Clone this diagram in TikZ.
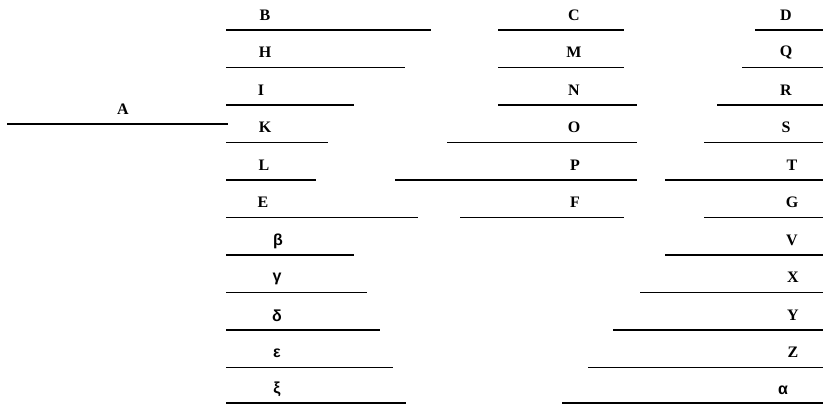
\documentclass[tikz,border=0pt]{standalone}
\usepackage{fontspec}
\setmainfont{Liberation Serif}
\newfontfamily\grkfont{Liberation Sans}
\usepackage{tikz}
\usetikzlibrary{positioning}

\tikzset{
  bar/.style={line width=1.3pt},
  lbl/.style={font=\fontsize{16}{18}\selectfont\bfseries, inner sep=0},
  grk/.style={font=\fontsize{16}{18}\selectfont\grkfont\bfseries, inner sep=0}
}

\begin{document}
\begin{tikzpicture}[x=1pt,y=-1pt]
      \useasboundingbox (0,0) rectangle (823,404);
      % root line
      \node[lbl] (A) at (123,109) {A};
      \draw[bar] (7,124) coordinate (A1) -- (228,124) coordinate (A2);
      % left column
      \node[lbl] (B) at (265,15) {B};
      \draw[bar] (226,30) coordinate (B1) -- (431,30) coordinate (B2);
      \node[lbl] (H) at (265,52.5) {H};
      \draw[bar] (226,67.5) coordinate (H1) -- (405,67.5) coordinate (H2);
      \node[lbl] (I) at (261,90) {I};
      \draw[bar] (226,105) coordinate (I1) -- (354,105) coordinate (I2);
      \node[lbl] (K) at (265,127.5) {K};
      \draw[bar] (226,142.5) coordinate (K1) -- (328,142.5) coordinate (K2);
      \node[lbl] (L) at (264,165) {L};
      \draw[bar] (226,180) coordinate (L1) -- (316,180) coordinate (L2);
      \node[lbl] (E) at (263,202.5) {E};
      \draw[bar] (226,217.5) coordinate (E1) -- (418,217.5) coordinate (E2);
      \node[grk] (beta) at (278,241) {β};
      \draw[bar] (226,255) coordinate (beta1) -- (354,255) coordinate (beta2);
      \node[grk] (gamma) at (277,278.5) {γ};
      \draw[bar] (226,292.5) coordinate (gamma1) -- (367,292.5) coordinate (gamma2);
      \node[grk] (delta) at (277,316) {δ};
      \draw[bar] (226,330) coordinate (delta1) -- (380,330) coordinate (delta2);
      \node[grk] (eps) at (277,353.5) {ε};
      \draw[bar] (226,367.5) coordinate (eps1) -- (393,367.5) coordinate (eps2);
      \node[grk] (xi) at (277,389) {ξ};
      \draw[bar] (226,403) coordinate (xi1) -- (406,403) coordinate (xi2);
      % middle column
      \node[lbl] (C) at (574,15) {C};
      \draw[bar] (498,30) coordinate (C1) -- (624,30) coordinate (C2);
      \node[lbl] (M) at (574,52.5) {M};
      \draw[bar] (498,67.5) coordinate (M1) -- (624,67.5) coordinate (M2);
      \node[lbl] (N) at (574,90) {N};
      \draw[bar] (498,105) coordinate (N1) -- (637,105) coordinate (N2);
      \node[lbl] (O) at (574,127.5) {O};
      \draw[bar] (447,142.5) coordinate (O1) -- (637,142.5) coordinate (O2);
      \node[lbl] (P) at (575,165) {P};
      \draw[bar] (395,180) coordinate (P1) -- (637,180) coordinate (P2);
      \node[lbl] (F) at (575,202.5) {F};
      \draw[bar] (460,217.5) coordinate (F1) -- (624,217.5) coordinate (F2);
      % right column
      \node[lbl] (D) at (786,15) {D};
      \draw[bar] (755,30) coordinate (D1) -- (823,30) coordinate (D2);
      \node[lbl] (Q) at (786,52.5) {Q};
      \draw[bar] (742,67.5) coordinate (Q1) -- (823,67.5) coordinate (Q2);
      \node[lbl] (R) at (786,90) {R};
      \draw[bar] (717,105) coordinate (R1) -- (823,105) coordinate (R2);
      \node[lbl] (S) at (786,127.5) {S};
      \draw[bar] (704,142.5) coordinate (S1) -- (823,142.5) coordinate (S2);
      \node[lbl] (T) at (792,165) {T};
      \draw[bar] (665,180) coordinate (T1) -- (823,180) coordinate (T2);
      \node[lbl] (G) at (792,202.5) {G};
      \draw[bar] (704,217.5) coordinate (G1) -- (823,217.5) coordinate (G2);
      \node[lbl] (V) at (792,240) {V};
      \draw[bar] (665,255) coordinate (V1) -- (823,255) coordinate (V2);
      \node[lbl] (X) at (793,277.5) {X};
      \draw[bar] (640,292.5) coordinate (X1) -- (823,292.5) coordinate (X2);
      \node[lbl] (Y) at (793,315) {Y};
      \draw[bar] (613,330) coordinate (Y1) -- (823,330) coordinate (Y2);
      \node[lbl] (Z) at (793,352.5) {Z};
      \draw[bar] (588,367.5) coordinate (Z1) -- (823,367.5) coordinate (Z2);
      \node[grk] (alpha) at (783,390) {α};
      \draw[bar] (562,403) coordinate (alpha1) -- (823,403) coordinate (alpha2);
\end{tikzpicture}
\end{document}
